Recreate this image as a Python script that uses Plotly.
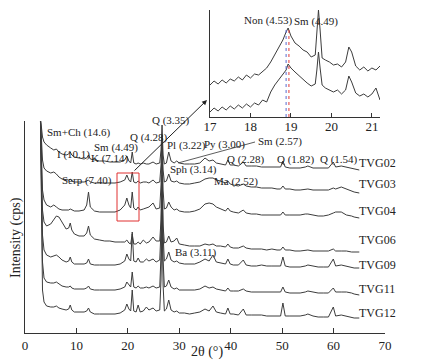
import plotly.graph_objects as go

# ---------------- data ----------------
two_theta = [
    3.0, 3.2, 3.4, 3.7, 4.2, 5.0, 5.6, 6.1, 6.6, 7.2,
    8.0, 8.5, 8.8, 9.1, 9.6, 10.5, 11.5, 12.0, 12.35, 12.7,
    13.5, 14.5, 15.5, 16.5, 17.5, 18.5, 19.4, 19.8, 20.2, 20.55,
    20.85, 21.15, 21.6, 22.0, 22.4, 23.0, 23.6, 24.1, 24.9, 25.5,
    26.2, 26.45, 26.65, 26.85, 27.1, 27.5, 27.95, 28.4, 29.0, 29.5,
    30.0, 31.0, 32.0, 33.0, 34.0, 35.0, 35.8, 36.55, 37.2, 38.0,
    39.0, 39.45, 39.9, 40.5, 41.5, 42.45, 43.0, 44.0, 45.0, 46.0,
    47.0, 48.0, 49.0, 49.7, 50.15, 50.6, 51.5, 52.5, 53.5, 54.5,
    55.0, 56.0, 57.0, 58.0, 59.0, 59.95, 60.4, 61.5, 62.5, 63.5,
    64.0, 65.0,
]

sample_names = ["TVG02", "TVG03", "TVG04", "TVG06", "TVG09", "TVG11", "TVG12"]

tvg02 = [54, 44, 35, 30, 27, 24, 22, 23, 20, 18,
         17, 18, 20, 17, 15, 14, 13, 14, 17, 13,
         12, 11, 11, 10, 10, 10, 12, 16, 11, 9,
         20, 9, 8, 9, 8, 9, 8, 8, 10, 8,
         9, 22, 47, 17, 8, 9, 20, 11, 9, 11,
         9, 8, 8, 8, 9, 14, 11, 12, 9, 8,
         7, 12, 7, 7, 6, 10, 6, 6, 6, 5,
         5, 5, 5, 5, 11, 5, 4, 4, 4, 5,
         6, 4, 4, 4, 4, 10, 5, 6, 5, 4,
         3, 2]
tvg03 = [77, 55, 35, 27, 24, 22, 23, 21, 18, 16,
         15, 15, 16, 14, 13, 13, 13, 14, 15, 13,
         12, 12, 12, 12, 12, 13, 15, 20, 15, 13,
         23, 13, 12, 14, 12, 13, 13, 12, 15, 12,
         13, 30, 60, 25, 13, 14, 21, 14, 13, 14,
         12, 11, 11, 12, 13, 16, 17, 17, 15, 14,
         12, 14, 11, 10, 9, 11, 9, 8, 8, 7,
         7, 7, 6, 6, 9, 6, 6, 5, 5, 6,
         6, 5, 5, 5, 5, 7, 6, 8, 6, 4,
         3, 2]
tvg04 = [102, 65, 30, 20, 15, 13, 15, 13, 11, 10,
         10, 10, 11, 10, 9, 9, 10, 15, 28, 13,
         9, 8, 8, 8, 8, 10, 15, 22, 15, 12,
         28, 12, 10, 13, 10, 11, 12, 13, 17, 11,
         12, 35, 75, 30, 11, 12, 18, 13, 10, 11,
         9, 8, 8, 9, 11, 16, 17, 16, 13, 11,
         9, 12, 9, 8, 7, 10, 7, 6, 6, 5,
         5, 5, 5, 5, 8, 5, 5, 5, 5, 6,
         6, 5, 4, 4, 5, 7, 8, 8, 5, 4,
         3, 2]
tvg06 = [136, 84, 44, 32, 28, 30, 34, 38, 37, 32,
         25, 26, 31, 24, 20, 18, 18, 21, 28, 19,
         15, 14, 13, 13, 12, 12, 12, 14, 11, 10,
         20, 10, 10, 12, 10, 14, 11, 12, 17, 13,
         13, 34, 79, 29, 11, 12, 18, 12, 13, 16,
         10, 9, 8, 8, 8, 10, 9, 10, 8, 8,
         7, 10, 7, 6, 6, 8, 6, 5, 5, 5,
         4, 5, 4, 4, 7, 4, 4, 3, 3, 4,
         4, 3, 3, 3, 3, 5, 3, 3, 3, 2,
         2, 2]
tvg09 = [152, 90, 35, 20, 15, 13, 14, 15, 13, 10,
         8, 9, 13, 8, 6, 6, 6, 7, 11, 6,
         5, 5, 5, 5, 5, 6, 9, 16, 11, 9,
         38, 9, 8, 12, 8, 8, 11, 9, 11, 8,
         10, 40, 105, 35, 9, 11, 18, 10, 8, 9,
         7, 6, 6, 6, 8, 11, 9, 15, 8, 7,
         6, 11, 6, 5, 5, 10, 5, 4, 4, 5,
         4, 4, 4, 4, 13, 4, 3, 3, 3, 4,
         5, 4, 3, 3, 3, 11, 4, 5, 4, 3,
         2, 2]
tvg11 = [179, 107, 35, 19, 15, 14, 14, 15, 13, 11,
         10, 10, 11, 9, 8, 8, 8, 9, 11, 8,
         7, 7, 7, 7, 7, 8, 10, 15, 12, 10,
         25, 10, 9, 11, 9, 9, 10, 9, 11, 9,
         10, 42, 107, 37, 10, 11, 17, 10, 8, 9,
         7, 7, 7, 7, 8, 11, 9, 10, 8, 7,
         6, 9, 6, 6, 6, 8, 6, 5, 5, 5,
         5, 5, 5, 5, 10, 5, 4, 4, 4, 5,
         6, 5, 4, 4, 4, 9, 5, 5, 5, 4,
         3, 2]
tvg12 = [202, 120, 30, 18, 14, 13, 13, 14, 12, 11,
         10, 11, 15, 10, 8, 8, 8, 9, 12, 8,
         6, 6, 6, 6, 6, 7, 10, 16, 11, 9,
         30, 9, 8, 15, 8, 9, 13, 10, 12, 9,
         10, 40, 105, 35, 9, 11, 20, 10, 8, 9,
         7, 7, 6, 7, 8, 11, 9, 14, 8, 7,
         6, 12, 6, 6, 5, 11, 5, 5, 5, 5,
         4, 4, 4, 4, 17, 4, 4, 4, 4, 5,
         6, 4, 3, 3, 3, 13, 4, 5, 4, 3,
         2, 2]
sample_values = [tvg02, tvg03, tvg04, tvg06, tvg09, tvg11, tvg12]
stack_offsets = [161, 138, 113, 79, 63, 36, 13]

# inset (17-21.2 deg detail)
inset_theta = [17.0, 17.1, 17.2, 17.3, 17.4, 17.5, 17.6, 17.7, 17.8, 17.9,
               18.0, 18.1, 18.2, 18.3, 18.4, 18.5, 18.6, 18.7, 18.8,
               18.88, 18.93, 19.0, 19.1, 19.2, 19.3, 19.4, 19.5, 19.6,
               19.64, 19.68, 19.72, 19.77, 19.85, 19.95, 20.05, 20.15, 20.25, 20.35,
               20.43, 20.5, 20.6, 20.7, 20.8, 20.9, 21.0, 21.1, 21.2]
inset_upper = [32, 36, 33, 37, 34, 38, 36, 40, 37, 42,
               39, 43, 42, 46, 49, 55, 62, 69, 77,
               85, 89, 81, 74, 71, 67, 65, 60, 62,
               82, 107, 87, 59, 57, 55, 52, 53, 50, 55,
               70, 65, 51, 47, 50, 46, 49, 47, 51]
inset_lower = [5, 9, 6, 10, 7, 11, 8, 12, 9, 13,
               10, 14, 12, 17, 15, 25, 32, 37, 43,
               47, 53, 49, 45, 41, 38, 34, 31, 33,
               47, 65, 49, 32, 29, 27, 25, 27, 23, 27,
               41, 35, 24, 21, 23, 20, 23, 29, 17]
non_line_theta = 18.88
sm_line_theta = 18.95

phase_labels = ["Sm+Ch (14.6)", "I (10.1)", "Sm (4.49)", "K (7.14)", "Q (4.28)",
                "Serp (7.40)", "Q (3.35)", "Pl (3.22)", "Py (3.00)", "Sm (2.57)",
                "Sph (3.14)", "Ma (2.52)", "Q (2.28)", "Q (1.82)", "Q (1.54)",
                "Ba (3.11)"]
inset_labels = ["Non (4.53)", "Sm (4.49)"]
x_ticks = [0, 10, 20, 30, 40, 50, 60, 70]
inset_ticks = [17, 18, 19, 20, 21]

for v in sample_values:
    assert len(v) == len(two_theta), len(v)
assert len(inset_upper) == len(inset_theta) == len(inset_lower)

# ---------------- layout helpers ----------------
# the page body has an 8 px margin, so the figure is drawn 8 px in
PAGE = 8
W, H = 429 - PAGE, 363 - PAGE
ML, MR, MT, MB = 25 - PAGE, 44, 10 - PAGE, 30
PW, PH = W - ML - MR, H - MT - MB


def px(xp):
    return (xp - PAGE - ML) / PW


def py(yp):
    return (H + PAGE - MB - yp) / PH


FONT = "Liberation Serif"
LINE = "#3c3c3c"

fig = go.Figure()
for name, vals, off in zip(sample_names, sample_values, stack_offsets):
    fig.add_trace(go.Scatter(x=two_theta, y=[v + off for v in vals], mode="lines",
                             line=dict(color=LINE, width=1), name=name,
                             showlegend=False, xaxis="x", yaxis="y"))

fig.add_trace(go.Scatter(x=inset_theta, y=inset_upper, mode="lines",
                         line=dict(color=LINE, width=1), showlegend=False,
                         xaxis="x2", yaxis="y2"))
fig.add_trace(go.Scatter(x=inset_theta, y=inset_lower, mode="lines",
                         line=dict(color=LINE, width=1), showlegend=False,
                         xaxis="x2", yaxis="y2"))

main_top = 212
fig.update_layout(
    width=W, height=H,
    margin=dict(l=ML, r=MR, t=MT, b=MB, pad=0, autoexpand=False),
    paper_bgcolor="white", plot_bgcolor="white",
    font=dict(family=FONT, size=12, color="#222"),
    xaxis=dict(domain=[0, 1], range=[0, 70], tickvals=x_ticks, ticks="inside",
               ticklen=5, tickcolor="#333", showline=True, linecolor="#333",
               linewidth=1, showgrid=False, zeroline=False, anchor="y",
               tickfont=dict(family=FONT, size=13, color="#222")),
    yaxis=dict(domain=[0, main_top / PH], range=[0, main_top], showticklabels=False,
               ticks="", showline=True, linecolor="#333", linewidth=1,
               showgrid=False, zeroline=False, anchor="x"),
    xaxis2=dict(domain=[px(210), px(380)], range=[17, 21.2], tickvals=inset_ticks,
                ticks="inside", ticklen=4, tickcolor="#333", showline=True,
                linecolor="#333", linewidth=1, showgrid=False, zeroline=False,
                anchor="y2", ticklabelstandoff=-3,
                tickfont=dict(family=FONT, size=13, color="#222")),
    yaxis2=dict(domain=[py(117), 1.0], range=[0, 107], showticklabels=False,
                ticks="", showline=True, linecolor="#333", linewidth=1,
                showgrid=False, zeroline=False, anchor="x2"),
)

ann = []
label_pos = [(45, 133), (55, 154), (92, 147), (89, 158), (128, 137),
             (60, 180), (150, 121), (165, 145), (202, 144), (256, 141),
             (168, 170), (212, 181), (225, 159), (275, 159), (318, 159),
             (173, 252)]
for t, (xp, yp) in zip(phase_labels, label_pos):
    ann.append(dict(text=t, x=px(xp), y=py(yp), xref="paper", yref="paper",
                    xanchor="left", yanchor="middle", showarrow=False,
                    font=dict(family=FONT, size=11, color="#222")))
for t, (xp, yp) in zip(inset_labels, [(242, 20), (292, 22)]):
    ann.append(dict(text=t, x=px(xp), y=py(yp), xref="paper", yref="paper",
                    xanchor="left", yanchor="middle", showarrow=False,
                    font=dict(family=FONT, size=11, color="#222")))
for t, yp in zip(sample_names, [163, 184, 211, 240, 265, 289, 313]):
    ann.append(dict(text=t, x=px(357), y=py(yp), xref="paper", yref="paper",
                    xanchor="left", yanchor="middle", showarrow=False,
                    font=dict(family=FONT, size=12, color="#222")))
# axis titles
ann.append(dict(text="2θ (°)", x=px(207), y=py(352), xref="paper", yref="paper",
                xanchor="center", yanchor="middle", showarrow=False,
                font=dict(family=FONT, size=14, color="#222")))
ann.append(dict(text="Intensity (cps)", x=px(16), y=py(238), xref="paper", yref="paper",
                xanchor="center", yanchor="middle", showarrow=False, textangle=-90,
                font=dict(family=FONT, size=14, color="#222")))
# arrow from red box to inset
ann.append(dict(text="", x=px(207), y=py(100), xref="paper", yref="paper",
                showarrow=True, ax=133 - 207, ay=172 - 100, arrowhead=2,
                arrowsize=1, arrowwidth=1, arrowcolor="#222"))
fig.update_layout(annotations=ann)

shapes = [
    dict(type="rect", xref="paper", yref="paper", x0=px(117), x1=px(139),
         y0=py(221), y1=py(173), line=dict(color="#e03030", width=1)),
    dict(type="line", xref="paper", yref="paper", x0=px(255), y0=py(142),
         x1=px(178), y1=py(163), line=dict(color="#333", width=0.8)),
    dict(type="line", xref="x2", yref="y2", x0=non_line_theta, x1=non_line_theta,
         y0=0, y1=89, line=dict(color="#5a6ad0", width=1, dash="dot")),
    dict(type="line", xref="x2", yref="y2", x0=sm_line_theta, x1=sm_line_theta,
         y0=0, y1=89, line=dict(color="#e03a3a", width=1, dash="dot")),
]
fig.update_layout(shapes=shapes)

fig.write_html("out.html")
